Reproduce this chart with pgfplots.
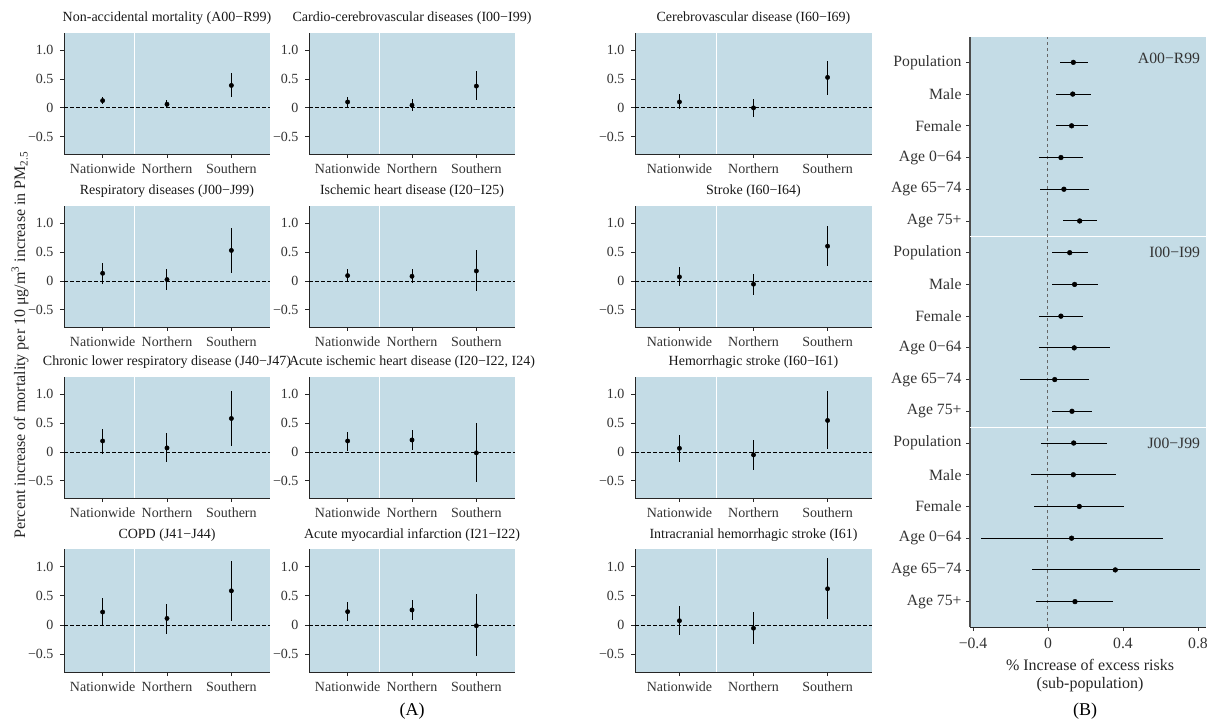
\documentclass[border=0pt]{standalone}
\usepackage{fontspec}
\setmainfont{Liberation Serif}
\usepackage{pgfplots}
\pgfplotsset{compat=1.18}
\usepackage{pgfplotstable}
\definecolor{bgblue}{RGB}{196,220,230}

% x: 1 Nationwide, 2 Northern, 3 Southern; y estimate, lo/hi interval
\pgfplotstableread{
x y lo hi
1 0.126 0.063 0.195
2 0.063 -0.006 0.138
3 0.390 0.195 0.600
}\tA
\pgfplotstableread{
x y lo hi
1 0.103 0.023 0.190
2 0.046 -0.050 0.149
3 0.379 0.132 0.632
}\tB
\pgfplotstableread{
x y lo hi
1 0.103 -0.023 0.236
2 0.000 -0.150 0.155
3 0.529 0.230 0.816
}\tC
\pgfplotstableread{
x y lo hi
1 0.132 -0.046 0.305
2 0.023 -0.161 0.207
3 0.529 0.138 0.925
}\tD
\pgfplotstableread{
x y lo hi
1 0.092 -0.017 0.207
2 0.080 -0.029 0.207
3 0.172 -0.172 0.529
}\tE
\pgfplotstableread{
x y lo hi
1 0.069 -0.092 0.236
2 -0.057 -0.241 0.126
3 0.603 0.259 0.954
}\tF
\pgfplotstableread{
x y lo hi
1 0.190 -0.034 0.397
2 0.069 -0.172 0.322
3 0.580 0.103 1.050
}\tG
\pgfplotstableread{
x y lo hi
1 0.190 0.023 0.350
2 0.207 0.034 0.379
3 -0.017 -0.529 0.506
}\tH
\pgfplotstableread{
x y lo hi
1 0.063 -0.167 0.287
2 -0.052 -0.316 0.207
3 0.546 0.046 1.050
}\tI
\pgfplotstableread{
x y lo hi
1 0.224 -0.011 0.460
2 0.115 -0.149 0.362
3 0.586 0.075 1.103
}\tJ
\pgfplotstableread{
x y lo hi
1 0.230 0.069 0.390
2 0.259 0.086 0.431
3 -0.011 -0.534 0.529
}\tK
\pgfplotstableread{
x y lo hi
1 0.075 -0.172 0.322
2 -0.052 -0.328 0.218
3 0.621 0.098 1.149
}\tL

% right panel: y position (18 = top row), estimate, lo, hi
\pgfplotstableread{
y x lo hi
18 0.135 0.064 0.212
17 0.132 0.041 0.228
16 0.126 0.043 0.215
15 0.069 -0.046 0.187
14 0.085 -0.043 0.217
13 0.169 0.080 0.260
12 0.116 0.021 0.212
11 0.142 0.021 0.265
10 0.069 -0.048 0.188
9 0.140 -0.048 0.329
8 0.036 -0.148 0.220
7 0.128 0.021 0.235
6 0.137 -0.036 0.313
5 0.135 -0.092 0.364
4 0.167 -0.073 0.407
3 0.126 -0.357 0.613
2 0.359 -0.087 0.811
1 0.144 -0.062 0.347
}\tR

\pgfplotsset{
  panel/.style={
    scale only axis, anchor=south west, clip=false,
    xmin=0.4, xmax=3.6, ymin=-0.8, ymax=1.3,
    axis lines*=left,
    axis line style={-, black!85, line width=0.8pt},
    axis background/.style={fill=bgblue},
    xtick={1,2,3}, xticklabels={Nationwide,Northern,Southern},
    ytick={-0.5,0,0.5,1}, yticklabels={−0.5,0,0.5,1.0},
    tick align=outside, major tick length=4pt,
    tick style={black!85, line width=0.8pt},
    ticklabel style={font=\fontsize{14}{16}\selectfont, text=black!80},
    yticklabel style={xshift=-3pt},
    xticklabel style={yshift=-2pt},
    title style={at={(0.5,1)}, anchor=base, yshift=5pt,
      font=\fontsize{14}{16}\selectfont, text=black!90},
  },
}

\newcommand{\panel}[6]{%
  \begin{axis}[panel, at={(#1pt,#2pt)}, width=#3pt, height=#4pt, title={#5}]
    \addplot[white, line width=1.3pt] coordinates {(1.5,-0.8) (1.5,1.3)};
    \addplot[black, line width=0.8pt, dash pattern=on 3.5pt off 2.5pt] coordinates {(0.4,0) (3.6,0)};
    \addplot[black, only marks, mark=*, mark size=2.2pt,
      error bars/.cd, y dir=both, y explicit, error mark=none,
      error bar style={line width=1pt, black}]
      table[x=x, y=y, y error plus expr=\thisrow{hi}-\thisrow{y},
            y error minus expr=\thisrow{y}-\thisrow{lo}] {#6};
  \end{axis}}

\begin{document}
\begin{tikzpicture}
\useasboundingbox (0pt,0pt) rectangle (1209pt,723pt);

% row 1
\panel{64}{569}{206}{121}{Non-accidental mortality (A00−R99)}{\tA}
\panel{309}{569}{206}{121}{Cardio-cerebrovascular diseases (I00−I99)}{\tB}
\panel{635}{569}{237}{121}{Cerebrovascular disease (I60−I69)}{\tC}
% row 2
\panel{64}{396}{206}{121}{Respiratory diseases (J00−J99)}{\tD}
\panel{309}{396}{206}{121}{Ischemic heart disease (I20−I25)}{\tE}
\panel{635}{396}{237}{121}{Stroke (I60−I64)}{\tF}
% row 3
\panel{64}{225}{206}{121}{Chronic lower respiratory disease (J40−J47)}{\tG}
\panel{309}{225}{206}{121}{Acute ischemic heart disease (I20−I22, I24)}{\tH}
\panel{635}{225}{237}{121}{Hemorrhagic stroke (I60−I61)}{\tI}
% row 4
\panel{64}{51}{206}{123}{COPD (J41−J44)}{\tJ}
\panel{309}{51}{206}{123}{Acute myocardial infarction (I21−I22)}{\tK}
\panel{635}{51}{237}{123}{Intracranial hemorrhagic stroke (I61)}{\tL}

\node[rotate=90, font=\fontsize{16}{18}\selectfont, text=black!85] at (20pt,378pt)
  {Percent increase of mortality per 10 μg/m\textsuperscript{3} increase in PM\textsubscript{2.5}};

% right panel
\begin{axis}[scale only axis, anchor=south west, at={(970pt,96pt)}, width=236pt, height=590pt,
    clip=false,
    xmin=-0.416, xmax=0.843, ymin=0.2, ymax=18.8,
    axis lines*=left,
    axis line style={-},
    x axis line style={black!85, line width=0.8pt},
    y axis line style={black!70, line width=1.6pt},
    axis background/.style={fill=bgblue},
    xtick={-0.4,0,0.4,0.8}, xticklabels={−0.4,0,0.4,0.8},
    ytick={1,...,18},
    yticklabels={Age 75+,Age 65−74,Age 0−64,Female,Male,Population,
                 Age 75+,Age 65−74,Age 0−64,Female,Male,Population,
                 Age 75+,Age 65−74,Age 0−64,Female,Male,Population},
    tick align=outside, major tick length=4pt,
    tick style={black!80, line width=0.8pt},
    ticklabel style={font=\fontsize{15.7}{18}\selectfont, text=black!80},
    yticklabel style={xshift=-1pt},
    xticklabel style={yshift=-4pt},
  ]
  \addplot[white, line width=1.2pt] coordinates {(-0.416,6.5) (0.843,6.5)};
  \addplot[white, line width=1.2pt] coordinates {(-0.416,12.5) (0.843,12.5)};
  \addplot[black!60, line width=1pt, dash pattern=on 3pt off 3pt] coordinates {(0,0.2) (0,18.8)};
  \addplot[black, only marks, mark=*, mark size=2.4pt,
    error bars/.cd, x dir=both, x explicit, error mark=none,
    error bar style={line width=1pt, black}]
    table[x=x, y=y, x error plus expr=\thisrow{hi}-\thisrow{x},
          x error minus expr=\thisrow{x}-\thisrow{lo}] {\tR};
  \node[anchor=east, font=\fontsize{15.7}{18}\selectfont, text=black!80] at (axis cs:0.83,18.13) {A00−R99};
  \node[anchor=east, font=\fontsize{15.7}{18}\selectfont, text=black!80] at (axis cs:0.83,12) {I00−I99};
  \node[anchor=east, font=\fontsize{15.7}{18}\selectfont, text=black!80] at (axis cs:0.83,6) {J00−J99};
\end{axis}

\node[font=\fontsize{16}{18}\selectfont, text=black!85] at (1090pt,58pt) {\% Increase of excess risks};
\node[font=\fontsize{16}{18}\selectfont, text=black!85] at (1090pt,38pt) {(sub-population)};

\node[font=\fontsize{18}{20}\selectfont] at (412pt,12pt) {(A)};
\node[font=\fontsize{18}{20}\selectfont] at (1085pt,12pt) {(B)};
\end{tikzpicture}
\end{document}
